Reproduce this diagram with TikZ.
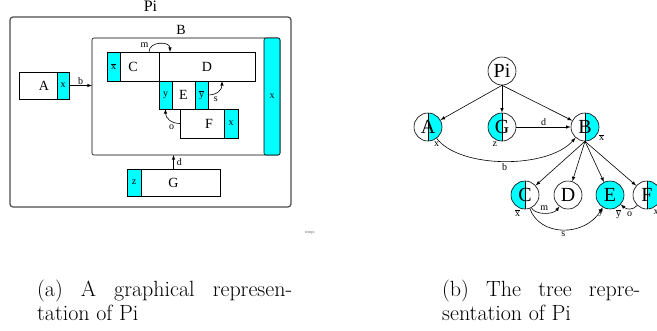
\documentclass[tikz,border=0pt]{standalone}
\usepackage{fontspec}
\newfontfamily\figfont{Liberation Serif}
\usetikzlibrary{arrows,calc,positioning}
\definecolor{portcol}{RGB}{0,255,255}

\tikzset{
  frame/.style={draw=black!70, line width=1.2pt, rounded corners=3pt, inner sep=0pt, outer sep=0pt},
  box/.style={draw, line width=0.6pt, inner sep=0pt, outer sep=0pt, font=\figfont\fontsize{14}{14}\selectfont},
  port/.style={draw, fill=portcol, line width=0.6pt, inner sep=0pt, outer sep=0pt, font=\figfont\fontsize{10}{10}\selectfont},
  lbl/.style={font=\figfont\fontsize{10}{10}\selectfont, inner sep=1pt},
  proc/.style={circle, draw, line width=0.6pt, minimum size=28pt, inner sep=0pt, font=\figfont\fontsize{20}{20}\selectfont},
  rhalf/.style={path picture={
    \fill[portcol] (path picture bounding box.north) rectangle (path picture bounding box.south east);
    \draw[line width=0.6pt] (path picture bounding box.north) -- (path picture bounding box.south);}},
  lhalf/.style={path picture={
    \fill[portcol] (path picture bounding box.north west) rectangle (path picture bounding box.south);
    \draw[line width=0.6pt] (path picture bounding box.north) -- (path picture bounding box.south);}},
  link/.style={->, >=latex, line width=0.6pt},
  caption/.style={anchor=north west, inner sep=0pt, align=left, font=\fontsize{22}{24}\selectfont},
}
\newcommand{\coname}[1]{$\overline{\mbox{#1}}$}

\begin{document}
\begin{tikzpicture}[x=1pt, y=-1pt]
\useasboundingbox (0,0) rectangle (657,330);

% ---- graphical view ----
\node[frame, minimum width=281pt, minimum height=190pt,
  label={[font=\figfont\fontsize{16}{16}\selectfont, label distance=2pt]above:Pi}] (Pi) at (150.5,112) {};

% sub process B with its port
\node[box, rounded corners=2pt, minimum width=188pt, minimum height=117pt,
  label={[xshift=-5pt, font=\figfont\fontsize{14}{14}\selectfont]above:B}] (B) at (186,96.5) {};
\node[port, rounded corners=2pt, anchor=north east, minimum width=16pt, minimum height=117pt] (Bx) at (B.north east) {x};

% A
\node[box, minimum width=50pt, minimum height=27pt] (A) at (44,85.5) {A};
\node[port, anchor=north east, minimum width=12pt, minimum height=27pt] (Ax) at (A.north east) {x};
\draw[link] (Ax.east) -- node[lbl, above] {b} (Ax.east -| B.west);

% C and D
\node[box, minimum width=52pt, minimum height=29pt] (C) at (133,66.5) {C};
\node[port, anchor=north west, minimum width=13pt, minimum height=29pt] (Cx) at (C.north west) {\coname{x}};
\node[box, right=0pt of C, minimum width=96pt, minimum height=29pt] (D) {D};

% E
\node[box, anchor=north west, minimum width=49pt, minimum height=28pt] (E) at (D.south west) {E};
\node[port, anchor=north west, minimum width=13pt, minimum height=28pt] (Ey) at (E.north west) {y};
\node[port, anchor=north east, minimum width=13pt, minimum height=28pt] (Eyb) at (E.north east) {\coname{y}};

% F
\node[box, anchor=north west, minimum width=58pt, minimum height=29pt] (F) at ([xshift=21pt]E.south west) {F};
\node[port, anchor=north east, minimum width=14pt, minimum height=29pt] (Fx) at (F.north east) {x};

% G
\node[box, minimum width=93pt, minimum height=27pt] (G) at (173.5,182.5) {G};
\node[port, anchor=north west, minimum width=14pt, minimum height=27pt] (Gz) at (G.north west) {z};
\draw[link] (G.north) -- node[lbl, right=2pt] {d} (G.north |- B.south);

% links inside B
\draw[link] ([xshift=-10pt]C.north east) .. controls +(0,-11) and +(0,-11) .. ([xshift=11pt]D.north west)
  node[lbl, pos=0.1, above left=0pt] {m};
\draw[link] (Eyb.east) .. controls +(9,0) and +(0,9) .. ([xshift=-33pt]D.south east)
  node[lbl, pos=0.15, below right=1pt] {s};
\draw[link] (F.west) .. controls +(-9,0) and +(0,9) .. (Ey.south)
  node[lbl, pos=0.15, below left=1pt] {o};

\node[font=\figfont\fontsize{4}{4}\selectfont, text=black!60] (temps) at (310,233) {temps};

% ---- tree view ----
\node[proc] (tPi) at (502,71) {Pi};
\node[proc, rhalf, label={[lbl]-70:x}] (tA) at (428,127) {A};
\node[proc, lhalf, label={[lbl]-105:z}] (tG) at (502,127) {G};
\node[proc, rhalf, label={[lbl]-25:\coname{x}}] (tB) at (585,127) {B};
\node[proc, lhalf, label={[lbl]-105:\coname{x}}] (tC) at (525,195) {C};
\node[proc] (tD) at (568,195) {D};
\node[proc, fill=portcol, label={[lbl]-112:y}, label={[lbl]-70:\coname{y}}] (tE) at (610,195) {E};
\node[proc, rhalf, label={[lbl]-68:x}] (tF) at (647,195) {F};

\foreach \n in {tA,tG,tB}
  \draw[link] (tPi.south) -- (\n);
\foreach \n in {tC,tD,tE,tF}
  \draw[link] (tB.south) -- (\n);

\draw[link] (tG) -- node[lbl, above] {d} (tB);
\draw[link] (tA) .. controls (460,169) and (548,169) .. (tB) node[lbl, pos=0.5, below=1pt] {b};
\draw[link] (tC) .. controls (535,215) and (553,215) .. (tD) node[lbl, pos=0.5, above=1pt] {m};
\draw[link] (tC) .. controls (540,237) and (585,237) .. (tE) node[lbl, pos=0.5, below=1pt] {s};
\draw[link] (tF) .. controls (633,210) and (627,210) .. (tE) node[lbl, pos=0.5, below=2pt] {o};

% captions
\node[caption] (capa) at (37,280) {\makebox[255pt][s]{(a) A graphical represen-}\\tation of Pi};
\node[caption] (capb) at (442,280) {\makebox[198pt][s]{(b) The tree repre-}\\sentation of Pi};
\end{tikzpicture}
\end{document}
